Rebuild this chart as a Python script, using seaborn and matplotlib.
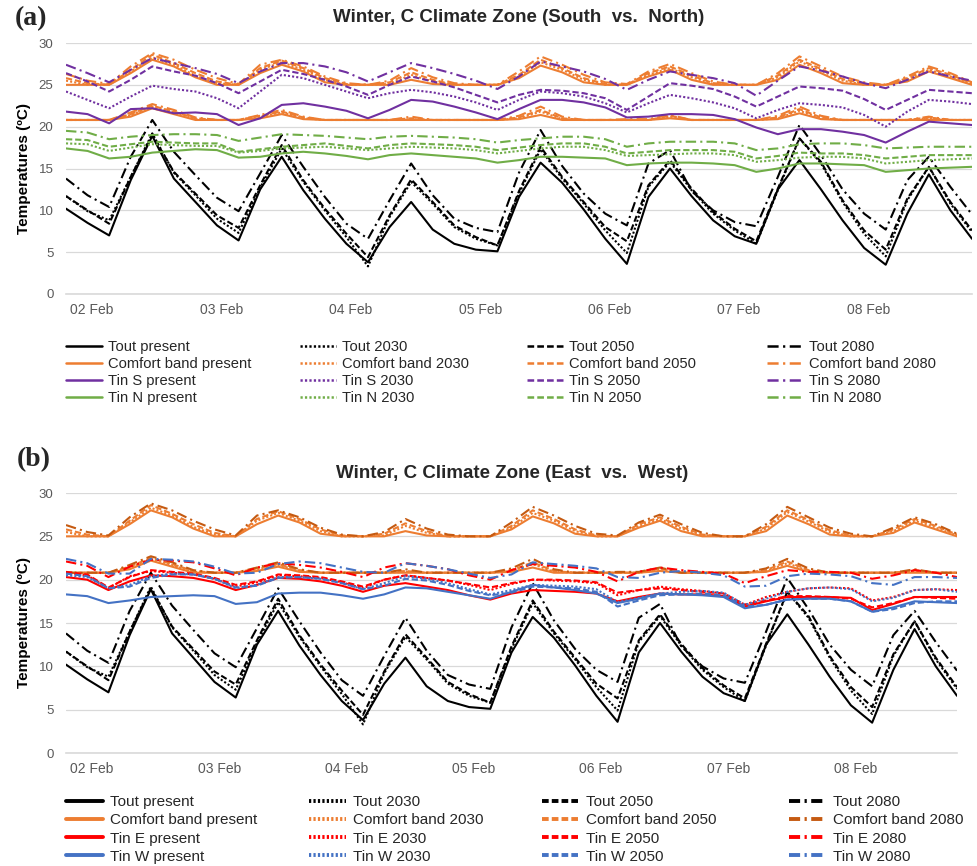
import seaborn as sns
import pandas as pd
import matplotlib.pyplot as plt
from matplotlib.lines import Line2D
from matplotlib.transforms import blended_transform_factory

# time axis: hours from 02 Feb 00:00, 4-hourly readings
hours = list(range(0, 169, 4))
day_ticks = [0, 24, 48, 72, 96, 120, 144]
day_labels = ["02 Feb", "03 Feb", "04 Feb", "05 Feb", "06 Feb", "07 Feb", "08 Feb"]
scenarios = ["present", "2030", "2050", "2080"]

##Outdoor temperature
tout_present = [10.2, 8.5, 7.0, 13.6, 18.9, 13.8, 11.0, 8.2, 6.4, 12.5, 16.4, 12.4,
                9.0, 6.0, 3.8, 8.0, 11.0, 7.7, 6.0, 5.3, 5.1, 11.6, 15.7, 13.3,
                10.1, 6.6, 3.6, 11.6, 15.0, 11.7, 8.8, 6.9, 6.0, 12.5, 16.0, 12.5,
                8.8, 5.5, 3.5, 9.6, 14.3, 10.0, 6.6]
tout_2030 = [11.7, 9.9, 8.8, 14.0, 19.2, 14.5, 11.8, 9.0, 7.3, 12.7, 17.4, 13.4,
             10.0, 6.8, 3.3, 9.2, 13.4, 10.8, 8.0, 6.6, 5.8, 12.0, 17.3, 13.8,
             10.8, 7.6, 4.9, 12.8, 15.8, 12.4, 9.6, 7.6, 6.0, 12.4, 18.6, 15.6,
             11.0, 7.2, 4.5, 11.2, 15.2, 10.8, 7.4]
tout_2050 = [11.7, 10.0, 8.4, 14.0, 19.0, 14.6, 12.0, 9.4, 7.9, 13.0, 17.8, 13.6,
             10.2, 7.2, 4.4, 9.4, 13.7, 11.0, 8.2, 6.8, 5.8, 12.3, 17.6, 14.0,
             11.0, 8.0, 6.3, 13.0, 16.0, 12.6, 9.8, 7.8, 6.3, 12.6, 18.6, 15.8,
             11.2, 7.6, 5.3, 11.4, 15.2, 11.0, 7.6]
tout_2080 = [13.8, 11.8, 10.4, 16.4, 20.8, 17.0, 14.2, 11.5, 9.9, 14.4, 19.0, 15.2,
             11.6, 8.4, 6.6, 11.2, 15.6, 11.8, 9.0, 7.9, 7.4, 14.5, 19.6, 15.3,
             12.0, 9.6, 8.2, 15.6, 17.2, 12.3, 10.0, 8.6, 8.1, 14.0, 20.2, 16.6,
             12.5, 9.6, 7.7, 13.6, 16.4, 12.8, 9.5]

##Comfort band (upper and lower limits)
cb_up_present = [25.0, 25.0, 25.0, 26.4, 28.0, 27.2, 25.9, 25.0, 25.0, 26.4, 27.4, 26.6,
                 25.3, 25.0, 25.0, 25.0, 25.6, 25.1, 25.0, 25.0, 25.0, 25.8, 27.3, 26.5,
                 25.3, 25.0, 25.0, 26.0, 26.8, 25.6, 25.0, 25.0, 25.0, 25.6, 27.4, 26.4,
                 25.2, 25.0, 25.0, 25.4, 26.6, 25.8, 25.0]
cb_up_2030 = [25.5, 25.0, 25.0, 26.6, 28.3, 27.4, 26.1, 25.2, 25.0, 26.8, 27.7, 26.8,
              25.6, 25.0, 25.0, 25.1, 26.2, 25.4, 25.0, 25.0, 25.0, 26.0, 27.7, 26.8,
              25.6, 25.0, 25.0, 26.2, 27.0, 25.9, 25.1, 25.0, 25.0, 25.9, 27.8, 26.7,
              25.5, 25.0, 25.0, 25.6, 26.8, 26.0, 25.1]
cb_up_2050 = [25.8, 25.2, 25.0, 26.8, 28.6, 27.6, 26.4, 25.4, 25.0, 27.0, 27.9, 27.0,
              25.8, 25.1, 25.0, 25.3, 26.5, 25.6, 25.0, 25.0, 25.0, 26.2, 28.0, 27.0,
              25.8, 25.1, 25.0, 26.4, 27.2, 26.1, 25.2, 25.0, 25.0, 26.1, 28.0, 26.9,
              25.7, 25.1, 25.0, 25.8, 27.0, 26.2, 25.2]
cb_up_2080 = [26.3, 25.5, 25.1, 27.2, 28.8, 28.0, 26.8, 25.8, 25.1, 27.4, 28.0, 27.2,
              26.0, 25.2, 25.0, 25.5, 27.0, 25.9, 25.2, 25.0, 25.0, 26.6, 28.4, 27.4,
              26.2, 25.3, 25.1, 26.6, 27.5, 26.4, 25.4, 25.0, 25.0, 26.4, 28.4, 27.2,
              26.0, 25.3, 25.0, 26.0, 27.2, 26.4, 25.3]
cb_lo_present = [20.8, 20.8, 20.8, 21.2, 22.2, 21.5, 20.8, 20.8, 20.8, 21.0, 21.5, 20.9,
                 20.8, 20.8, 20.8, 20.8, 20.8, 20.8, 20.8, 20.8, 20.8, 20.9, 21.4, 20.8,
                 20.8, 20.8, 20.8, 20.8, 21.0, 20.8, 20.8, 20.8, 20.8, 20.9, 21.6, 20.9,
                 20.8, 20.8, 20.8, 20.8, 20.8, 20.8, 20.8]
cb_lo_2030 = [20.8, 20.8, 20.8, 21.4, 22.4, 21.7, 20.9, 20.8, 20.8, 21.2, 21.7, 21.0,
              20.8, 20.8, 20.8, 20.8, 20.9, 20.8, 20.8, 20.8, 20.8, 21.0, 21.8, 20.9,
              20.8, 20.8, 20.8, 20.8, 21.2, 20.8, 20.8, 20.8, 20.8, 21.0, 21.9, 21.0,
              20.8, 20.8, 20.8, 20.8, 21.0, 20.8, 20.8]
cb_lo_2050 = [20.8, 20.8, 20.8, 21.5, 22.5, 21.8, 21.0, 20.8, 20.8, 21.3, 21.8, 21.1,
              20.8, 20.8, 20.8, 20.8, 21.0, 20.8, 20.8, 20.8, 20.8, 21.1, 22.0, 21.0,
              20.8, 20.8, 20.8, 20.8, 21.3, 20.8, 20.8, 20.8, 20.8, 21.1, 22.1, 21.1,
              20.8, 20.8, 20.8, 20.8, 21.1, 20.8, 20.8]
cb_lo_2080 = [20.8, 20.8, 20.8, 21.7, 22.7, 22.0, 21.1, 20.8, 20.8, 21.4, 22.0, 21.2,
              20.8, 20.8, 20.8, 20.8, 21.2, 20.8, 20.8, 20.8, 20.8, 21.3, 22.4, 21.2,
              20.8, 20.8, 20.9, 20.9, 21.4, 20.8, 20.8, 20.8, 20.8, 21.3, 22.4, 21.3,
              20.8, 20.8, 20.8, 20.8, 21.2, 20.8, 20.8]

##Indoor, south and north rooms
tin_s_present = [21.8, 21.5, 20.4, 22.1, 22.2, 21.6, 21.7, 21.5, 20.2, 21.0, 22.6, 22.8,
                 22.4, 21.9, 21.0, 22.0, 23.2, 23.0, 22.4, 21.7, 20.9, 22.1, 23.2, 23.2,
                 22.9, 22.3, 21.1, 21.2, 21.5, 21.5, 21.4, 20.9, 19.9, 19.1, 19.7, 19.7,
                 19.4, 19.0, 18.1, 19.4, 20.6, 20.4, 20.2]
tin_s_2030 = [24.2, 23.2, 22.2, 23.6, 24.9, 24.5, 24.2, 23.4, 22.2, 24.2, 26.2, 25.8,
              25.0, 24.2, 23.4, 24.0, 24.4, 24.1, 23.6, 22.9, 22.0, 23.2, 24.2, 24.0,
              23.6, 22.8, 21.7, 22.8, 23.8, 23.4, 22.9, 22.2, 21.0, 22.0, 22.8, 22.6,
              22.3, 21.4, 20.0, 21.8, 23.2, 23.0, 22.7]
tin_s_2050 = [26.4, 25.4, 24.2, 25.6, 27.2, 26.6, 26.1, 25.2, 24.0, 25.4, 26.8, 26.3,
              25.6, 24.8, 23.8, 25.0, 26.0, 25.4, 24.7, 23.8, 22.9, 23.8, 24.4, 24.3,
              24.0, 23.4, 22.0, 23.6, 25.2, 24.9, 24.5, 23.6, 22.4, 23.6, 24.8, 24.6,
              24.3, 23.3, 22.0, 23.2, 24.4, 24.2, 24.0]
tin_s_2080 = [27.4, 26.4, 25.3, 26.8, 28.2, 27.6, 27.0, 26.3, 25.2, 26.6, 27.6, 27.6,
              27.2, 26.5, 25.4, 26.5, 27.6, 27.0, 26.3, 25.5, 24.5, 26.0, 27.8, 27.2,
              26.6, 25.7, 24.4, 25.6, 26.6, 26.2, 25.8, 25.2, 23.7, 25.5, 27.2, 26.7,
              26.0, 25.2, 24.6, 25.6, 26.6, 26.0, 25.5]
tin_n_present = [17.4, 17.1, 16.2, 16.4, 16.9, 17.1, 17.3, 17.2, 16.3, 16.4, 16.8, 17.0,
                 16.8, 16.5, 16.1, 16.6, 16.8, 16.6, 16.4, 16.2, 15.7, 16.0, 16.4, 16.4,
                 16.3, 16.2, 15.4, 15.6, 15.7, 15.7, 15.6, 15.4, 14.6, 15.0, 15.6, 15.6,
                 15.5, 15.4, 14.6, 14.8, 15.0, 15.1, 15.2]
tin_n_2030 = [18.0, 17.9, 17.1, 17.5, 17.9, 17.8, 17.7, 17.7, 16.9, 17.1, 17.4, 17.5,
              17.6, 17.4, 17.2, 17.4, 17.6, 17.5, 17.4, 17.2, 16.8, 17.1, 17.4, 17.6,
              17.6, 17.2, 16.5, 16.6, 16.7, 16.8, 16.8, 16.6, 15.8, 16.0, 16.3, 16.4,
              16.4, 16.2, 15.6, 15.8, 16.0, 16.1, 16.2]
tin_n_2050 = [18.5, 18.4, 17.6, 17.9, 18.2, 18.1, 18.0, 18.0, 17.0, 17.3, 17.6, 17.8,
              18.0, 17.7, 17.4, 17.8, 18.0, 17.9, 17.8, 17.6, 17.2, 17.5, 17.8, 18.0,
              18.0, 17.6, 16.8, 17.0, 17.2, 17.2, 17.2, 17.0, 16.2, 16.5, 16.9, 16.8,
              16.8, 16.6, 16.2, 16.4, 16.6, 16.6, 16.6]
tin_n_2080 = [19.5, 19.3, 18.5, 18.8, 19.0, 19.1, 19.1, 19.0, 18.3, 18.7, 19.1, 19.0,
              18.9, 18.7, 18.5, 18.8, 18.9, 18.8, 18.7, 18.5, 18.1, 18.4, 18.6, 18.8,
              18.8, 18.5, 17.6, 18.0, 18.2, 18.2, 18.2, 18.0, 17.2, 17.4, 17.9, 18.0,
              18.0, 17.8, 17.4, 17.5, 17.6, 17.6, 17.6]

##Indoor, east and west rooms
tin_e_present = [20.3, 20.0, 18.8, 19.8, 20.5, 20.4, 20.2, 19.7, 18.8, 19.4, 20.2, 20.1,
                 19.8, 19.3, 18.6, 19.3, 19.6, 19.2, 18.8, 18.2, 17.7, 18.4, 18.8, 18.7,
                 18.6, 18.4, 17.5, 18.0, 18.4, 18.3, 18.3, 18.1, 16.9, 17.5, 18.0, 18.0,
                 18.0, 17.9, 16.5, 17.2, 18.0, 18.0, 18.0]
tin_e_2030 = [20.8, 20.5, 19.0, 20.4, 21.0, 20.8, 20.6, 20.1, 19.2, 19.7, 20.5, 20.4,
              20.2, 19.7, 19.0, 20.0, 20.5, 20.2, 19.9, 19.4, 18.8, 19.5, 20.0, 19.9,
              19.8, 19.6, 18.2, 18.8, 19.2, 18.9, 18.7, 18.4, 17.1, 18.0, 18.6, 19.0,
              19.1, 19.0, 17.6, 18.0, 18.8, 18.9, 18.8]
tin_e_2050 = [20.9, 20.6, 19.1, 20.3, 21.1, 20.9, 20.7, 20.2, 19.4, 19.8, 20.6, 20.5,
              20.3, 19.8, 19.2, 20.0, 20.5, 20.2, 19.9, 19.5, 19.1, 19.6, 20.0, 20.0,
              19.9, 19.7, 18.5, 18.8, 19.0, 18.8, 18.6, 18.4, 17.1, 17.6, 18.1, 18.1,
              18.0, 17.8, 16.8, 17.3, 18.0, 17.9, 17.8]
tin_e_2080 = [22.1, 21.6, 20.3, 21.5, 22.3, 22.2, 22.0, 21.3, 20.5, 21.4, 21.9, 21.7,
              21.4, 20.9, 20.3, 21.4, 21.9, 21.6, 21.2, 20.5, 20.0, 21.1, 21.8, 21.6,
              21.4, 20.9, 19.8, 20.9, 21.4, 21.1, 20.9, 20.7, 19.6, 20.4, 21.1, 20.9,
              20.9, 20.8, 20.1, 20.5, 21.1, 20.8, 20.3]
tin_w_present = [18.3, 18.1, 17.3, 17.6, 18.0, 18.1, 18.2, 18.1, 17.2, 17.4, 18.4, 18.5,
                 18.5, 18.2, 17.8, 18.3, 19.1, 19.0, 18.6, 18.2, 17.8, 18.6, 19.4, 19.1,
                 18.8, 18.4, 17.3, 17.8, 18.4, 18.3, 18.2, 18.0, 16.7, 17.1, 17.7, 17.8,
                 17.8, 17.5, 16.3, 16.8, 17.5, 17.4, 17.3]
tin_w_2030 = [20.5, 20.3, 19.0, 19.4, 20.4, 20.7, 20.6, 20.1, 19.0, 19.4, 20.3, 20.3,
              20.1, 19.6, 18.9, 19.6, 20.4, 20.1, 19.6, 18.9, 18.3, 18.8, 19.4, 19.3,
              19.2, 18.9, 17.4, 17.9, 18.4, 18.6, 18.7, 18.5, 17.1, 17.8, 18.6, 19.0,
              19.1, 18.9, 17.5, 17.9, 18.8, 18.9, 18.6]
tin_w_2050 = [20.7, 20.4, 19.0, 19.2, 20.2, 20.6, 20.6, 20.1, 19.1, 19.3, 20.2, 20.3,
              20.1, 19.6, 18.9, 19.3, 20.1, 19.9, 19.4, 18.7, 18.2, 18.5, 19.2, 19.1,
              19.0, 18.6, 16.9, 17.6, 18.2, 18.3, 18.4, 18.2, 16.9, 17.1, 17.7, 17.8,
              17.8, 17.5, 16.3, 16.6, 17.3, 17.5, 17.5]
tin_w_2080 = [22.4, 21.9, 20.7, 20.7, 22.4, 22.3, 22.1, 21.5, 20.7, 20.8, 21.8, 22.1,
              21.9, 21.4, 20.9, 20.8, 21.9, 21.6, 21.2, 20.7, 20.2, 20.6, 22.0, 21.8,
              21.6, 21.3, 20.3, 20.2, 20.8, 21.0, 20.8, 20.5, 19.2, 19.3, 20.4, 20.7,
              20.6, 20.4, 19.6, 19.4, 20.3, 20.3, 20.2]

tout = dict(zip(scenarios, [tout_present, tout_2030, tout_2050, tout_2080]))
cb_up = dict(zip(scenarios, [cb_up_present, cb_up_2030, cb_up_2050, cb_up_2080]))
cb_lo = dict(zip(scenarios, [cb_lo_present, cb_lo_2030, cb_lo_2050, cb_lo_2080]))
tin_s = dict(zip(scenarios, [tin_s_present, tin_s_2030, tin_s_2050, tin_s_2080]))
tin_n = dict(zip(scenarios, [tin_n_present, tin_n_2030, tin_n_2050, tin_n_2080]))
tin_e = dict(zip(scenarios, [tin_e_present, tin_e_2030, tin_e_2050, tin_e_2080]))
tin_w = dict(zip(scenarios, [tin_w_present, tin_w_2030, tin_w_2050, tin_w_2080]))

BLACK = "#000000"
ORANGE = "#ED7D31"
DARK_ORANGE = "#C55A11"
PURPLE = "#7030A0"
GREEN = "#70AD47"
RED = "#FF0000"
BLUE = "#4472C4"
GRID = "#D9D9D9"
TEXT = "#595959"

dash_styles = {"present": "", "2030": (1, 1), "2050": (3, 1.4), "2080": (5, 2, 1, 2)}

sns.set_theme(style="white")
plt.rcParams['font.family'] = ['Liberation Sans', 'DejaVu Sans']

W, H = 978, 866
fig = plt.figure(figsize=(W / 100, H / 100), dpi=100)


def draw_panel(ax, families, colors, ax_width_px, ax_height_px):
    frames = []
    palette = {}
    dashes = {}
    order = []
    for fam, data in families:
        for sc in scenarios:
            name = fam + " " + sc
            frames.append(pd.DataFrame({"hour": hours, "temp": data[sc], "series": name}))
            palette[name] = colors[fam][sc]
            dashes[name] = dash_styles[sc]
            order.append(name)
    df = pd.concat(frames, ignore_index=True)
    sns.lineplot(data=df, x="hour", y="temp", hue="series", style="series",
                 hue_order=order, style_order=order, palette=palette, dashes=dashes,
                 linewidth=1.5, estimator=None, legend=False, ax=ax)
    ax.set_xlim(0, 168)
    ax.set_ylim(0, 30)
    ax.set_yticks(range(0, 31, 5))
    ax.yaxis.grid(True, color=GRID, lw=0.9)
    ax.xaxis.grid(False)
    ax.set_axisbelow(True)
    sns.despine(ax=ax, left=True)
    ax.spines['bottom'].set_color(GRID)
    ax.spines['bottom'].set_linewidth(1.2)
    ax.set_xticks(day_ticks)
    ax.tick_params(axis='x', length=20, width=1, color=GRID, labelbottom=False, direction='out')
    ax.tick_params(axis='y', length=0, pad=9, labelsize=9.5, labelcolor=TEXT)
    ax.set_xlabel("")
    ax.set_ylabel("Temperatures (ºC)", fontweight="bold", fontsize=11, color=BLACK)
    ax.yaxis.set_label_coords(-35 / ax_width_px, 0.5)
    trans = blended_transform_factory(ax.transData, ax.transAxes)
    for d, lab in zip(day_ticks, day_labels):
        ax.text(d + 0.8, -16 / ax_height_px, lab, transform=trans, ha="left", va="center",
                fontsize=10, color=TEXT)


def add_legend(families, colors, col_x, top_y, fontsize, lw, spacing):
    for j, sc in enumerate(scenarios):
        handles = []
        labels = []
        for fam in families:
            if sc == "present":
                ls = "-"
            else:
                # keep the dash pattern the same length as on the 1.5 pt chart lines
                ls = (0, tuple(v * 1.6 / lw for v in dash_styles[sc]))
            handles.append(Line2D([], [], color=colors[fam][sc], lw=lw, linestyle=ls))
            labels.append(fam + " " + sc)
        fig.legend(handles, labels, loc="upper left",
                   bbox_to_anchor=(col_x[j] / W, 1 - top_y / H), bbox_transform=fig.transFigure,
                   frameon=False, fontsize=fontsize, handlelength=2.45, handletextpad=0.4,
                   labelspacing=spacing, borderpad=0, borderaxespad=0)


def same(c):
    return {sc: c for sc in scenarios}


# Panel (a)
colors_a = {"Tout": same(BLACK), "Comfort band": same(ORANGE),
            "Comfort band upper": same(ORANGE), "Comfort band lower": same(ORANGE),
            "Tin S": same(PURPLE), "Tin N": same(GREEN)}
ax_a = fig.add_axes([66 / W, 1 - 294 / H, 906 / W, 251 / H])
draw_panel(ax_a, [("Tout", tout), ("Comfort band upper", cb_up), ("Comfort band lower", cb_lo),
                  ("Tin S", tin_s), ("Tin N", tin_n)], colors_a, 906, 251)
fig.text(519 / W, 1 - 18 / H, "Winter, C Climate Zone (South  vs.  North)", ha="center",
         va="center", fontsize=13.5, fontweight="bold")
fig.text(15 / W, 1 - 19 / H, "(a)", ha="left", va="center", fontsize=20, fontweight="bold",
         family=["Liberation Serif", "DejaVu Serif"])
add_legend(["Tout", "Comfort band", "Tin S", "Tin N"], colors_a, [66, 300, 527, 767], 340,
           10.6, 1.8, 0.2)

# Panel (b)
cb_b = {"present": ORANGE, "2030": ORANGE, "2050": ORANGE, "2080": DARK_ORANGE}
colors_b = {"Tout": same(BLACK), "Comfort band": cb_b,
            "Comfort band upper": cb_b, "Comfort band lower": cb_b,
            "Tin E": same(RED), "Tin W": same(BLUE)}
ax_b = fig.add_axes([66 / W, 1 - 753 / H, 891 / W, 260 / H])
draw_panel(ax_b, [("Tout", tout), ("Comfort band upper", cb_up), ("Comfort band lower", cb_lo),
                  ("Tin E", tin_e), ("Tin W", tin_w)], colors_b, 891, 260)
fig.text(512 / W, 1 - 473 / H, "Winter, C Climate Zone (East  vs.  West)", ha="center",
         va="center", fontsize=13.5, fontweight="bold")
fig.text(17 / W, 1 - 460 / H, "(b)", ha="left", va="center", fontsize=20, fontweight="bold",
         family=["Liberation Serif", "DejaVu Serif"])
add_legend(["Tout", "Comfort band", "Tin E", "Tin W"], colors_b, [66, 309, 542, 789], 795,
           11, 2.8, 0.28)

fig.savefig("out.png", dpi=100)
